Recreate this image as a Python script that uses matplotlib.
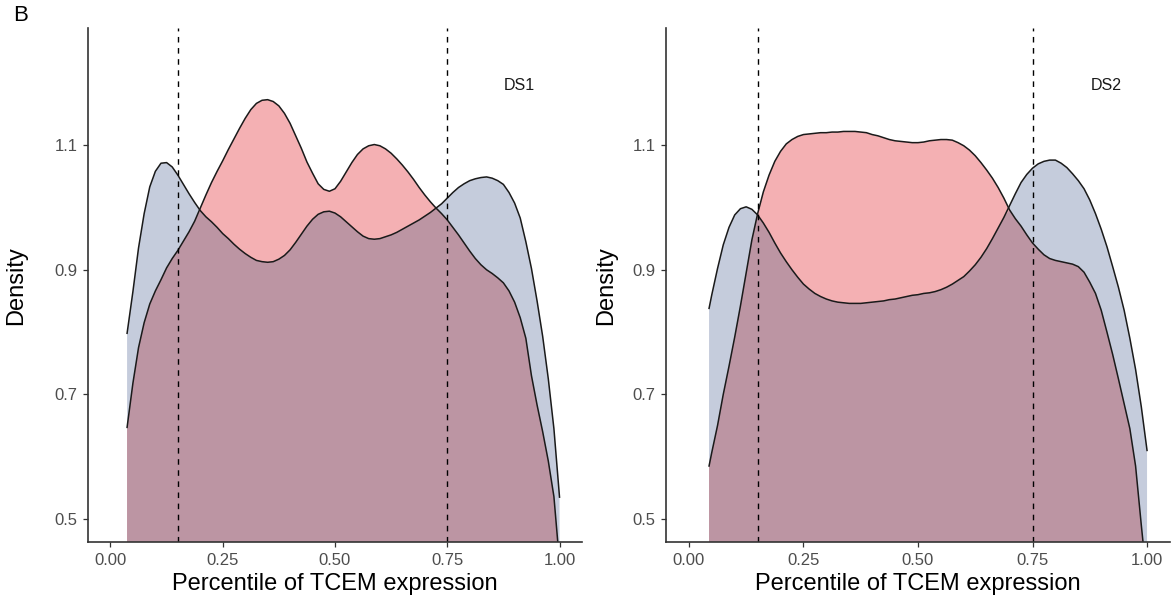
import numpy as np
import matplotlib.pyplot as plt

plt.rcParams['font.family'] = ['Liberation Sans', 'DejaVu Sans']

# density curves (x = percentile, y = density)
x_ds1 = [0.037, 0.05, 0.0625, 0.075, 0.0875, 0.1, 0.1125, 0.125, 0.1375, 0.15,
         0.1625, 0.175, 0.1875, 0.2, 0.2125, 0.225, 0.2375, 0.25, 0.2625, 0.275,
         0.2875, 0.3, 0.3125, 0.325, 0.3375, 0.35, 0.3625, 0.375, 0.3875, 0.4,
         0.4125, 0.425, 0.4375, 0.45, 0.4625, 0.475, 0.4875, 0.5, 0.5125, 0.525,
         0.5375, 0.55, 0.5625, 0.575, 0.5875, 0.6, 0.6125, 0.625, 0.6375, 0.65,
         0.6625, 0.675, 0.6875, 0.7, 0.7125, 0.725, 0.7375, 0.75, 0.7625, 0.775,
         0.7875, 0.8, 0.8125, 0.825, 0.8375, 0.85, 0.8625, 0.875, 0.8875, 0.9,
         0.9125, 0.925, 0.9375, 0.95, 0.9625, 0.975, 0.9875, 1.0]
blue_ds1 = [0.798, 0.865, 0.935, 0.990, 1.033, 1.058, 1.071, 1.072, 1.065, 1.052,
            1.037, 1.022, 1.008, 0.995, 0.985, 0.977, 0.968, 0.958, 0.950, 0.941,
            0.933, 0.926, 0.920, 0.915, 0.913, 0.912, 0.913, 0.917, 0.923, 0.932,
            0.944, 0.957, 0.970, 0.981, 0.989, 0.993, 0.994, 0.991, 0.985, 0.977,
            0.969, 0.961, 0.954, 0.950, 0.949, 0.950, 0.953, 0.956, 0.960, 0.965,
            0.970, 0.975, 0.980, 0.986, 0.992, 0.999, 1.006, 1.015, 1.024, 1.032,
            1.038, 1.043, 1.046, 1.048, 1.049, 1.047, 1.043, 1.037, 1.024, 1.007,
            0.983, 0.945, 0.902, 0.850, 0.793, 0.725, 0.645, 0.535]
pink_ds1 = [0.647, 0.718, 0.775, 0.815, 0.845, 0.866, 0.884, 0.903, 0.918, 0.931,
            0.946, 0.961, 0.978, 0.999, 1.020, 1.040, 1.058, 1.075, 1.093, 1.110,
            1.127, 1.143, 1.157, 1.167, 1.172, 1.173, 1.170, 1.163, 1.151, 1.135,
            1.115, 1.095, 1.073, 1.055, 1.038, 1.029, 1.026, 1.030, 1.042, 1.057,
            1.072, 1.085, 1.094, 1.099, 1.101, 1.099, 1.094, 1.087, 1.078, 1.068,
            1.057, 1.045, 1.032, 1.020, 1.009, 0.999, 0.990, 0.980, 0.968, 0.956,
            0.943, 0.930, 0.918, 0.908, 0.900, 0.894, 0.887, 0.879, 0.866, 0.848,
            0.823, 0.790, 0.730, 0.683, 0.640, 0.593, 0.536, 0.430]

x_ds2 = [0.044, 0.05, 0.0625, 0.075, 0.0875, 0.1, 0.1125, 0.125, 0.1375, 0.15,
         0.1625, 0.175, 0.1875, 0.2, 0.2125, 0.225, 0.2375, 0.25, 0.2625, 0.275,
         0.2875, 0.3, 0.3125, 0.325, 0.3375, 0.35, 0.3625, 0.375, 0.3875, 0.4,
         0.4125, 0.425, 0.4375, 0.45, 0.4625, 0.475, 0.4875, 0.5, 0.5125, 0.525,
         0.5375, 0.55, 0.5625, 0.575, 0.5875, 0.6, 0.6125, 0.625, 0.6375, 0.65,
         0.6625, 0.675, 0.6875, 0.7, 0.7125, 0.725, 0.7375, 0.75, 0.7625, 0.775,
         0.7875, 0.8, 0.8125, 0.825, 0.8375, 0.85, 0.8625, 0.875, 0.8875, 0.9,
         0.9125, 0.925, 0.9375, 0.95, 0.9625, 0.975, 0.9875, 1.0]
blue_ds2 = [0.838, 0.860, 0.902, 0.940, 0.968, 0.988, 0.998, 1.001, 0.997, 0.988,
            0.975, 0.960, 0.943, 0.927, 0.913, 0.900, 0.888, 0.877, 0.869, 0.862,
            0.857, 0.853, 0.850, 0.848, 0.847, 0.846, 0.846, 0.846, 0.847, 0.848,
            0.849, 0.850, 0.852, 0.853, 0.855, 0.857, 0.859, 0.860, 0.862, 0.863,
            0.865, 0.868, 0.872, 0.877, 0.883, 0.889, 0.898, 0.908, 0.920, 0.934,
            0.950, 0.967, 0.984, 1.003, 1.022, 1.040, 1.053, 1.063, 1.070, 1.074,
            1.076, 1.076, 1.071, 1.064, 1.054, 1.043, 1.030, 1.012, 0.990, 0.965,
            0.937, 0.905, 0.872, 0.835, 0.790, 0.740, 0.680, 0.610]
pink_ds2 = [0.585, 0.607, 0.650, 0.700, 0.745, 0.792, 0.842, 0.895, 0.948, 0.990,
            1.025, 1.052, 1.074, 1.090, 1.102, 1.109, 1.114, 1.117, 1.118, 1.119,
            1.120, 1.120, 1.121, 1.121, 1.122, 1.122, 1.122, 1.121, 1.120, 1.117,
            1.115, 1.112, 1.109, 1.107, 1.106, 1.105, 1.104, 1.104, 1.105, 1.107,
            1.108, 1.109, 1.109, 1.108, 1.104, 1.099, 1.092, 1.083, 1.072, 1.060,
            1.047, 1.032, 1.015, 0.996, 0.982, 0.970, 0.956, 0.943, 0.933, 0.924,
            0.918, 0.915, 0.913, 0.911, 0.909, 0.905, 0.896, 0.880, 0.862, 0.835,
            0.800, 0.764, 0.725, 0.685, 0.645, 0.585, 0.490, 0.400]

cutoffs = [0.15, 0.75]
x_ticks = [0.00, 0.25, 0.50, 0.75, 1.00]
y_ticks = [0.5, 0.7, 0.9, 1.1]

pink = '#F4B0B3'
blue = '#C5CCDC'
both = '#BC95A3'

fig = plt.figure(figsize=(11.75, 6.04), dpi=100)
ax1 = fig.add_axes([0.0749, 0.1021, 0.4204, 0.8510])
ax2 = fig.add_axes([0.5668, 0.1021, 0.4289, 0.8510])

panels = [(ax1, x_ds1, blue_ds1, pink_ds1, 'DS1', 19.5),
          (ax2, x_ds2, blue_ds2, pink_ds2, 'DS2', 11)]

for ax, x, b, p, name, ypad in panels:
    x = np.array(x)
    b = np.array(b)
    p = np.array(p)
    ax.fill_between(x, 0, b, color=blue, lw=0)
    ax.fill_between(x, 0, p, color=pink, lw=0)
    ax.fill_between(x, 0, np.minimum(b, p), color=both, lw=0)
    ax.plot(x, b, color='#1a1a1a', lw=1.1)
    ax.plot(x, p, color='#1a1a1a', lw=1.1)
    for c in cutoffs:
        ax.axvline(c, color='black', lw=1.0, ls=(0, (4, 4)))
    ax.text(0.91, 1.195, name, fontsize=11.5, color='#1a1a1a', ha='center', va='center')

    ax.set_xlim(-0.05, 1.05)
    ax.set_ylim(0.4625, 1.2875)
    ax.set_xticks(x_ticks)
    ax.set_xticklabels(['0.00', '0.25', '0.50', '0.75', '1.00'])
    ax.set_yticks(y_ticks)
    ax.set_yticklabels(['0.5', '0.7', '0.9', '1.1'])
    ax.tick_params(labelsize=12, labelcolor='#4d4d4d', color='#333333',
                   length=3.5, width=0.9, pad=4)
    for s in ['top', 'right']:
        ax.spines[s].set_visible(False)
    for s in ['left', 'bottom']:
        ax.spines[s].set_color('#333333')
        ax.spines[s].set_linewidth(1.2)
    ax.set_xlabel('Percentile of TCEM expression', fontsize=17, labelpad=4)
    ax.set_ylabel('Density', fontsize=17, labelpad=ypad)

fig.text(0.011, 0.957, 'B', fontsize=16, ha='left', va='bottom')

fig.savefig('out.png', dpi=100)
